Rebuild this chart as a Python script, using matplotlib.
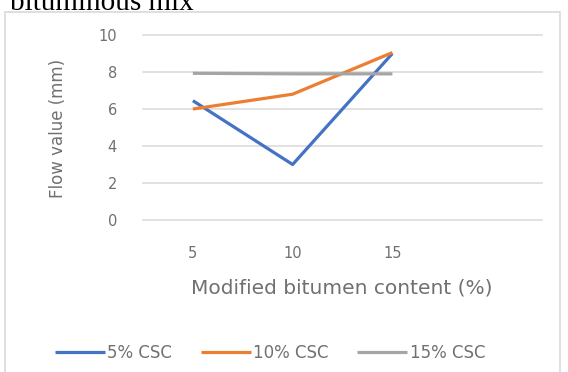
import matplotlib
matplotlib.use("Agg")
import matplotlib.pyplot as plt
from matplotlib.patches import Rectangle

categories = ["5", "10", "15", ""]
series_names = ["5% CSC", "10% CSC", "15% CSC"]
csc5 = [6.45, 3.0, 9.0]
csc10 = [6.0, 6.8, 9.05]
csc15 = [7.93, 7.9, 7.9]
colors = ["#4472C4", "#ED7D31", "#A5A5A5"]
yticks = [0, 2, 4, 6, 8, 10]

W, H = 568, 372
PT = 72 / 100  # points per pixel at 100 dpi
TXT = "#707070"
fig = plt.figure(figsize=(W / 100, H / 100), dpi=100)
fig.patch.set_facecolor("white")

# chart-area border (Excel chart frame)
fig.add_artist(Rectangle((5 / W, -0.05), 555 / W, 1.05 - 12 / H,
                         transform=fig.transFigure, fill=False,
                         edgecolor="#d9d9d9", lw=1.2))

# cut-off caption text above the chart
fig.text(10 / W, 1 - 10 / H, "bituminous mix", family="Liberation Serif",
         fontsize=21, color="black", ha="left", va="baseline")

ax = fig.add_axes([143 / W, 1 - 220 / H, (542 - 143) / W, (220 - 35) / H])
x = list(range(len(csc5)))
for vals, name, c in zip([csc5, csc10, csc15], series_names, colors):
    ax.plot(x, vals, color=c, lw=2.3, label=name, solid_capstyle="butt",
            zorder=3)

ax.set_xlim(-0.5, len(categories) - 0.5)
ax.set_ylim(0, 10)
ax.set_yticks(yticks)
ax.set_yticklabels([str(v) for v in yticks])
ax.set_xticks(range(len(categories)))
ax.set_xticklabels(categories)
for v in yticks:
    ax.axhline(v, color="#d9d9d9", lw=1.1, zorder=1, clip_on=False)
for s in ax.spines.values():
    s.set_visible(False)
ax.tick_params(axis="both", length=0, colors=TXT, labelsize=10.5)
ax.tick_params(axis="y", pad=26 * PT)
ax.tick_params(axis="x", pad=26 * PT)

fig.text(58 / W, 1 - 128 / H, "Flow value (mm)", rotation=90, color=TXT,
         fontsize=12, ha="center", va="center")
fig.text(342 / W, 1 - 288 / H, "Modified bitumen content (%)", color=TXT,
         fontsize=14.5, ha="center", va="center")

leg = fig.legend(loc="center", bbox_to_anchor=(270 / W, 1 - 353 / H), ncol=3,
                 frameon=False, fontsize=12, handlelength=3.0,
                 columnspacing=1.7, handletextpad=0.15)
for t in leg.get_texts():
    t.set_color(TXT)

fig.savefig("out.png", dpi=100, facecolor="white")
